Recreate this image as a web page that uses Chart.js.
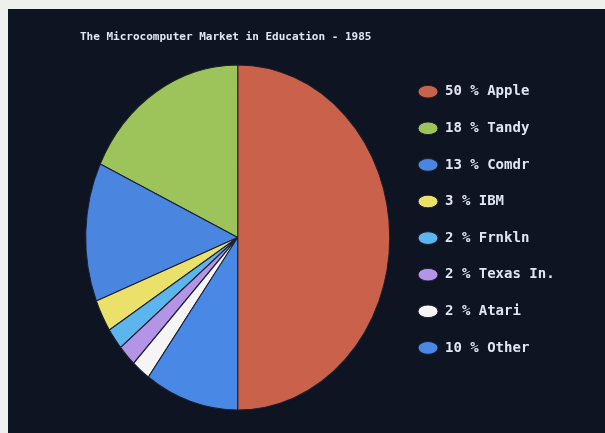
<!DOCTYPE html>
<html>
<head>
<meta charset="utf-8">
<title>The Microcomputer Market in Education - 1985</title>
<script src="https://cdn.jsdelivr.net/npm/chart.js@4/dist/chart.umd.min.js"></script>
<style>
  html, body { margin: 0; padding: 0; background: #eef0ee; }
  /* the dark "screen" sits inside a light frame edge, like the photo */
  #screen { position: absolute; left: 8px; top: 9px; width: 597px; height: 424px; background: #0f1422; }
  canvas { display: block; }
</style>
</head>
<body>
<div id="screen"><canvas id="pie" width="597" height="424"></canvas></div>
<script>
// Market share by maker, legend order.
const makers = ['Apple', 'Tandy', 'Comdr', 'IBM', 'Frnkln', 'Texas In.', 'Atari', 'Other'];
const shares = [50, 18, 13, 3, 2, 2, 2, 10];
const sliceColors = ['#c9614b', '#9dc35b', '#4a86e0', '#ebe06a', '#5cb5ec', '#b394e6', '#f5f5f5', '#4a88e6'];
const titleText = 'The Microcomputer Market in Education - 1985';

const FG = '#dfe6f5';
const MONO = '"DejaVu Sans Mono", "Liberation Mono", monospace';
// the old monitor drew the pie taller than wide, and the slices run counter-clockwise
const STRETCH_Y = 1.135;

const screenPiePlugin = {
  id: 'crt-pie',
  beforeDatasetsDraw(chart) {
    const arc = chart.getDatasetMeta(0).data[0];
    if (!arc) return;
    const ctx = chart.ctx;
    ctx.save();
    ctx.translate(arc.x, arc.y);
    ctx.scale(-1, STRETCH_Y);
    ctx.translate(-arc.x, -arc.y);
  },
  afterDatasetsDraw(chart) {
    if (chart.getDatasetMeta(0).data[0]) chart.ctx.restore();
  },
};

new Chart(document.getElementById('pie'), {
  type: 'pie',
  data: {
    labels: makers.map((m, i) => `${shares[i]} % ${m}`),
    datasets: [{
      data: shares,
      backgroundColor: sliceColors,
      borderColor: '#1a2030',
      borderWidth: 1,
      clip: false,
    }],
  },
  options: {
    responsive: false,
    animation: false,
    events: [],
    rotation: 180,
    radius: 152,
    layout: { padding: { left: 72, right: 40.4, top: 0, bottom: 2.4 } },
    plugins: {
      title: {
        display: true, text: titleText, align: 'start', color: FG,
        font: { family: MONO, size: 11, weight: 'bold' },
        padding: { top: 21.4, bottom: 0.8 },
      },
      legend: {
        position: 'right', align: 'center',
        labels: {
          color: FG, usePointStyle: true, pointStyle: 'circle',
          pointStyleWidth: 20, boxHeight: 9, padding: 22.6,
          font: { family: MONO, size: 14, weight: 'bold' },
        },
      },
      tooltip: { enabled: false },
    },
  },
  plugins: [screenPiePlugin],
});
</script>
</body>
</html>
